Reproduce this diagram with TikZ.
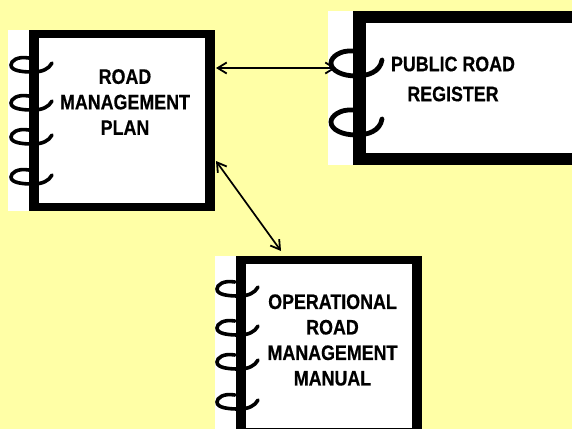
\documentclass[tikz,border=0pt]{standalone}
\usepackage{fontspec}
\setmainfont{Liberation Sans}[FakeStretch=0.85,BoldFeatures={FakeBold=0.5}]
\usetikzlibrary{arrows.meta}
\definecolor{paper}{HTML}{FFFFA6}
\tikzset{
  sheet/.style={fill=white,draw=none,inner sep=0pt,outer sep=0pt,anchor=north west},
  frame/.style={fill=black,draw=none,inner sep=0pt,outer sep=0pt,anchor=north west},
  booktext/.style={align=center,font=\bfseries\fontsize{21}{25.5}\selectfont,inner sep=0pt,text=black},
  regtext/.style={booktext,font=\bfseries\fontsize{21}{30}\selectfont},
  coil/.style={line width=3.6pt,line cap=round,draw=black},
  bigcoil/.style={line width=4.8pt,line cap=round,draw=black},
  link/.style={line width=1.7pt,{Straight Barb[length=9pt,width=11pt,line width=1.8pt]}-{Straight Barb[length=9pt,width=11pt,line width=1.8pt]}}
}
\newcommand{\smallcoil}[2]{\draw[coil] (#1+21,#2-7) .. controls (#1+9,#2-9) and (#1+3,#2-4) .. (#1+3,#2) .. controls (#1+3,#2+6) and (#1+15,#2+7) .. (#1+25,#2+7) .. controls (#1+34,#2+7) and (#1+41,#2+4) .. (#1+44,#2-2);}
\newcommand{\largecoil}[2]{\draw[bigcoil] (#1+25,#2-12) .. controls (#1+12,#2-13) and (#1+3,#2-6) .. (#1+3,#2) .. controls (#1+3,#2+8) and (#1+15,#2+13) .. (#1+28,#2+13) .. controls (#1+40,#2+13) and (#1+52,#2+9) .. (#1+54,#2-3);}
\begin{document}
\begin{tikzpicture}[x=1pt,y=-1pt]
\useasboundingbox (0,0) rectangle (572,429);
\fill[paper] (0,0) rectangle (572,429);
% plan
\fill[white] (8,30) rectangle (30,211);
\node[frame,minimum width=186pt,minimum height=181pt] (planframe) at (29,30) {};
\node[sheet,minimum width=165.5pt,minimum height=165pt] (plansheet) at (39,38) {};
\foreach \y in {65,103,137,177} {\smallcoil{8}{\y}}
\node[booktext] (plan) at (125,102) {ROAD\\MANAGEMENT\\PLAN};
% register
\fill[white] (328,11) rectangle (354,165);
\node[frame,minimum width=219pt,minimum height=154pt] (regframe) at (353,11) {};
\node[sheet,minimum width=206pt,minimum height=130pt] (regsheet) at (366,23) {};
\foreach \y in {63,122} {\largecoil{328}{\y}}
\node[regtext] (reg) at (453,79) {PUBLIC ROAD\\REGISTER};
% manual
\fill[white] (215,256) rectangle (237,429);
\node[frame,minimum width=186pt,minimum height=173pt] (manframe) at (236,256) {};
\node[sheet,minimum width=166pt,minimum height=164pt] (mansheet) at (246,264) {};
\foreach \y in {289,328,362,402} {\smallcoil{214}{\y}}
\node[booktext] (man) at (332.5,340) {OPERATIONAL\\ROAD\\MANAGEMENT\\MANUAL};
% connectors
\coordinate (a1) at (216,68);
\coordinate (a2) at (336,68);
\coordinate (b1) at (216,161);
\coordinate (b2) at (281,251);
\draw[link] (a1) -- (a2);
\draw[link] (b1) -- (b2);
\end{tikzpicture}
\end{document}
